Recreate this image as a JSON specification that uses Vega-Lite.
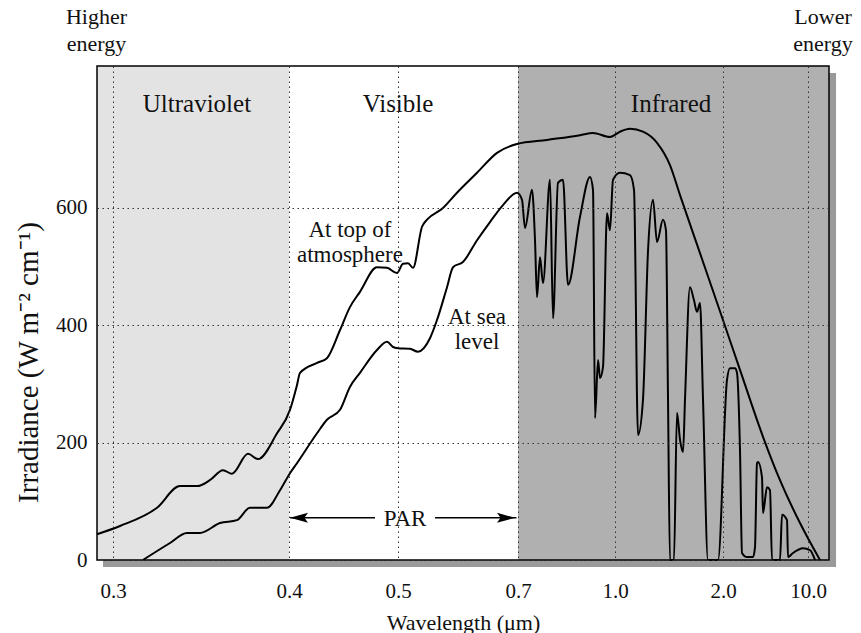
{
  "$schema": "https://vega.github.io/schema/vega-lite/v6.json",
  "width": 732,
  "height": 494,
  "autosize": {"type": "none"},
  "padding": {"left": 97, "top": 66, "right": 32, "bottom": 73},
  "background": "white",
  "config": {"view": {"stroke": null}, "font": "Liberation Serif"},
  "datasets": {
    "regions": [
      {"w": 0.2909, "w2": 0.4, "v": 0, "v2": 842, "r": "uv"},
      {"w": 0.7, "w2": 12, "v": 0, "v2": 842, "r": "ir"},
      {"w": 0.2943, "w2": 12.67, "v": -12, "v2": 0, "r": "shadow"},
      {"w": 12, "w2": 12.67, "v": -12, "v2": 830, "r": "shadow"}
    ],
    "curves": [
      {"series": "top", "w": 0.2909, "v": 44}, {"series": "top", "w": 0.304, "v": 58}, {"series": "top", "w": 0.325, "v": 89},
      {"series": "top", "w": 0.338, "v": 126}, {"series": "top", "w": 0.348, "v": 126}, {"series": "top", "w": 0.355, "v": 136},
      {"series": "top", "w": 0.3625, "v": 153}, {"series": "top", "w": 0.3676, "v": 147}, {"series": "top", "w": 0.3767, "v": 181},
      {"series": "top", "w": 0.3824, "v": 172}, {"series": "top", "w": 0.3932, "v": 216}, {"series": "top", "w": 0.4009, "v": 256},
      {"series": "top", "w": 0.4073, "v": 298}, {"series": "top", "w": 0.4101, "v": 319}, {"series": "top", "w": 0.4257, "v": 336},
      {"series": "top", "w": 0.4348, "v": 344}, {"series": "top", "w": 0.4468, "v": 392}, {"series": "top", "w": 0.4559, "v": 431},
      {"series": "top", "w": 0.4651, "v": 457}, {"series": "top", "w": 0.4807, "v": 499}, {"series": "top", "w": 0.4899, "v": 498},
      {"series": "top", "w": 0.4991, "v": 489}, {"series": "top", "w": 0.5083, "v": 505}, {"series": "top", "w": 0.5167, "v": 506},
      {"series": "top", "w": 0.525, "v": 498}, {"series": "top", "w": 0.54, "v": 568}, {"series": "top", "w": 0.5483, "v": 580},
      {"series": "top", "w": 0.575, "v": 600}, {"series": "top", "w": 0.5983, "v": 626}, {"series": "top", "w": 0.6317, "v": 660},
      {"series": "top", "w": 0.665, "v": 694}, {"series": "top", "w": 0.6983, "v": 709}, {"series": "top", "w": 0.7897, "v": 716},
      {"series": "top", "w": 0.8918, "v": 724}, {"series": "top", "w": 0.932, "v": 728}, {"series": "top", "w": 0.9845, "v": 721},
      {"series": "top", "w": 1.046, "v": 730}, {"series": "top", "w": 1.139, "v": 735}, {"series": "top", "w": 1.259, "v": 730},
      {"series": "top", "w": 1.389, "v": 711}, {"series": "top", "w": 1.509, "v": 673}, {"series": "top", "w": 1.602, "v": 622},
      {"series": "top", "w": 1.787, "v": 523}, {"series": "top", "w": 1.972, "v": 424}, {"series": "top", "w": 3.6, "v": 324},
      {"series": "top", "w": 5.765, "v": 210}, {"series": "top", "w": 7.365, "v": 136}, {"series": "top", "w": 9.247, "v": 63},
      {"series": "top", "w": 11.14, "v": 0},
      {"series": "sea", "w": 0.317, "v": 0}, {"series": "sea", "w": 0.3324, "v": 29}, {"series": "sea", "w": 0.342, "v": 46},
      {"series": "sea", "w": 0.3494, "v": 46}, {"series": "sea", "w": 0.3608, "v": 63}, {"series": "sea", "w": 0.3704, "v": 68},
      {"series": "sea", "w": 0.3778, "v": 89}, {"series": "sea", "w": 0.3875, "v": 89}, {"series": "sea", "w": 0.3949, "v": 119},
      {"series": "sea", "w": 0.4009, "v": 148}, {"series": "sea", "w": 0.4073, "v": 165}, {"series": "sea", "w": 0.4257, "v": 216},
      {"series": "sea", "w": 0.4348, "v": 239}, {"series": "sea", "w": 0.4468, "v": 256}, {"series": "sea", "w": 0.4559, "v": 295},
      {"series": "sea", "w": 0.4651, "v": 319}, {"series": "sea", "w": 0.4807, "v": 358}, {"series": "sea", "w": 0.4899, "v": 372},
      {"series": "sea", "w": 0.4954, "v": 363}, {"series": "sea", "w": 0.5, "v": 361}, {"series": "sea", "w": 0.52, "v": 360},
      {"series": "sea", "w": 0.5333, "v": 355}, {"series": "sea", "w": 0.5533, "v": 378}, {"series": "sea", "w": 0.565, "v": 409},
      {"series": "sea", "w": 0.5817, "v": 465}, {"series": "sea", "w": 0.5917, "v": 499}, {"series": "sea", "w": 0.6083, "v": 508},
      {"series": "sea", "w": 0.6317, "v": 545}, {"series": "sea", "w": 0.6533, "v": 576}, {"series": "sea", "w": 0.675, "v": 605},
      {"series": "sea", "w": 0.6983, "v": 626}, {"series": "sea", "w": 0.7124, "v": 614}, {"series": "sea", "w": 0.7217, "v": 566},
      {"series": "sea", "w": 0.7433, "v": 631}, {"series": "sea", "w": 0.7526, "v": 545}, {"series": "sea", "w": 0.7588, "v": 448},
      {"series": "sea", "w": 0.768, "v": 516}, {"series": "sea", "w": 0.7773, "v": 472}, {"series": "sea", "w": 0.799, "v": 648},
      {"series": "sea", "w": 0.8083, "v": 412}, {"series": "sea", "w": 0.8237, "v": 643}, {"series": "sea", "w": 0.8392, "v": 648},
      {"series": "sea", "w": 0.8547, "v": 469}, {"series": "sea", "w": 0.8918, "v": 585}, {"series": "sea", "w": 0.9227, "v": 653},
      {"series": "sea", "w": 0.932, "v": 631}, {"series": "sea", "w": 0.9382, "v": 242}, {"series": "sea", "w": 0.9475, "v": 341},
      {"series": "sea", "w": 0.9536, "v": 310}, {"series": "sea", "w": 0.9629, "v": 329}, {"series": "sea", "w": 0.9753, "v": 591},
      {"series": "sea", "w": 0.9845, "v": 562}, {"series": "sea", "w": 0.9938, "v": 648}, {"series": "sea", "w": 1.046, "v": 660},
      {"series": "sea", "w": 1.139, "v": 656}, {"series": "sea", "w": 1.176, "v": 631}, {"series": "sea", "w": 1.213, "v": 213},
      {"series": "sea", "w": 1.259, "v": 273}, {"series": "sea", "w": 1.306, "v": 528}, {"series": "sea", "w": 1.352, "v": 614},
      {"series": "sea", "w": 1.389, "v": 542}, {"series": "sea", "w": 1.444, "v": 580}, {"series": "sea", "w": 1.472, "v": 562},
      {"series": "sea", "w": 1.491, "v": 273}, {"series": "sea", "w": 1.509, "v": 0}, {"series": "sea", "w": 1.546, "v": 0},
      {"series": "sea", "w": 1.574, "v": 251}, {"series": "sea", "w": 1.602, "v": 205}, {"series": "sea", "w": 1.63, "v": 184},
      {"series": "sea", "w": 1.648, "v": 273}, {"series": "sea", "w": 1.694, "v": 465}, {"series": "sea", "w": 1.731, "v": 443},
      {"series": "sea", "w": 1.759, "v": 423}, {"series": "sea", "w": 1.787, "v": 438}, {"series": "sea", "w": 1.815, "v": 273},
      {"series": "sea", "w": 1.861, "v": 0}, {"series": "sea", "w": 1.954, "v": 0}, {"series": "sea", "w": 2.376, "v": 307},
      {"series": "sea", "w": 2.659, "v": 327}, {"series": "sea", "w": 3.129, "v": 327}, {"series": "sea", "w": 3.318, "v": 319},
      {"series": "sea", "w": 3.6, "v": 187}, {"series": "sea", "w": 3.788, "v": 12}, {"series": "sea", "w": 4.259, "v": 5},
      {"series": "sea", "w": 4.824, "v": 5}, {"series": "sea", "w": 5.012, "v": 22}, {"series": "sea", "w": 5.2, "v": 165},
      {"series": "sea", "w": 5.294, "v": 167}, {"series": "sea", "w": 5.671, "v": 141}, {"series": "sea", "w": 5.765, "v": 80},
      {"series": "sea", "w": 6.141, "v": 124}, {"series": "sea", "w": 6.424, "v": 119}, {"series": "sea", "w": 6.612, "v": 0},
      {"series": "sea", "w": 7.365, "v": 0}, {"series": "sea", "w": 7.553, "v": 77}, {"series": "sea", "w": 8.024, "v": 68},
      {"series": "sea", "w": 8.118, "v": 5}, {"series": "sea", "w": 8.588, "v": 12}, {"series": "sea", "w": 9.53, "v": 20},
      {"series": "sea", "w": 10.19, "v": 17}, {"series": "sea", "w": 10.67, "v": 0}
    ],
    "frame": [{"w": 0.2909, "w2": 12, "v": 0, "v2": 842}],
    "regionLabels": [
      {"w": 0.3477, "v": 763, "label": "Ultraviolet"},
      {"w": 0.5, "v": 763, "label": "Visible"},
      {"w": 1.519, "v": 763, "label": "Infrared"}
    ],
    "curveLabels": [
      {"w": 0.4559, "v": 563, "label": "At top of\natmosphere"},
      {"w": 0.6317, "v": 414, "label": "At sea\nlevel"}
    ],
    "energyLabels": [
      {"w": 0.2906, "v": 914, "label": "Higher\nenergy"},
      {"w": 11.43, "v": 914, "label": "Lower\nenergy"}
    ],
    "parLabel": [{"w": 0.5117, "v": 70, "label": "PAR"}],
    "parLines": [
      {"w": 0.401, "w2": 0.4789, "v": 72},
      {"w": 0.5617, "w2": 0.6975, "v": 72}
    ],
    "parHeads": [
      {"w": 0.4092, "v": 72, "dir": "left"},
      {"w": 0.68, "v": 72, "dir": "right"}
    ]
  },
  "encoding": {
    "x": {
      "field": "w",
      "type": "quantitative",
      "title": "Wavelength (μm)",
      "scale": {
        "domain": [0.2909, 0.3, 0.4, 0.5, 0.7, 1, 2, 10, 12],
        "range": [0, 16, 192, 301, 421, 518, 626, 711, 732],
        "nice": false,
        "zero": false
      },
      "axis": {
        "values": [0.3, 0.4, 0.5, 0.7, 1, 2, 10],
        "format": ".1f",
        "ticks": false,
        "tickSize": 0,
        "domain": false,
        "grid": true,
        "gridDash": [1.5, 3.5],
        "gridColor": "#333333",
        "gridWidth": 1,
        "labelFont": "Liberation Serif",
        "labelFontSize": 21,
        "labelColor": "#111111",
        "labelBaseline": "alphabetic",
        "labelPadding": 37,
        "labelFlush": false,
        "labelOverlap": false,
        "titleFont": "Liberation Serif",
        "titleFontSize": 22,
        "titleFontWeight": "normal",
        "titleColor": "#111111",
        "titleBaseline": "alphabetic",
        "titleY": 69,
        "zindex": 1
      }
    },
    "y": {
      "field": "v",
      "type": "quantitative",
      "title": "Irradiance (W m⁻² cm⁻¹)",
      "scale": {"domain": [0, 842], "nice": false, "zero": false},
      "axis": {
        "values": [0, 200, 400, 600],
        "ticks": false,
        "tickSize": 0,
        "domain": false,
        "grid": true,
        "gridDash": [1.5, 3.5],
        "gridColor": "#333333",
        "gridWidth": 1,
        "labelFont": "Liberation Serif",
        "labelFontSize": 21,
        "labelColor": "#111111",
        "labelPadding": 10,
        "titleFont": "Liberation Serif",
        "titleFontSize": 29,
        "titleFontWeight": "normal",
        "titleColor": "#111111",
        "titleAngle": -90,
        "titleAlign": "center",
        "titleBaseline": "alphabetic",
        "titleX": -60,
        "titleY": 296,
        "zindex": 1
      }
    }
  },
  "layer": [
    {
      "data": {"name": "regions"},
      "mark": {"type": "rect"},
      "encoding": {
        "x2": {"field": "w2"},
        "y2": {"field": "v2"},
        "color": {
          "field": "r",
          "type": "nominal",
          "scale": {"domain": ["uv", "ir", "shadow"], "range": ["#e3e3e3", "#b0b0b0", "#9a9a9a"]},
          "legend": null
        }
      }
    },
    {
      "data": {"name": "curves"},
      "mark": {"type": "line", "color": "#000000", "strokeWidth": 2, "interpolate": "monotone"},
      "encoding": {"detail": {"field": "series", "type": "nominal"}}
    },
    {
      "data": {"name": "frame"},
      "mark": {"type": "rect", "fillOpacity": 0, "stroke": "#000000", "strokeWidth": 1.5},
      "encoding": {"x2": {"field": "w2"}, "y2": {"field": "v2"}}
    },
    {
      "data": {"name": "regionLabels"},
      "mark": {"type": "text", "font": "Liberation Serif", "fontSize": 25, "baseline": "alphabetic", "align": "center", "color": "#111111"},
      "encoding": {"text": {"field": "label"}}
    },
    {
      "data": {"name": "curveLabels"},
      "mark": {"type": "text", "font": "Liberation Serif", "fontSize": 23, "baseline": "middle", "align": "center", "lineBreak": "\n", "lineHeight": 25, "color": "#111111"},
      "encoding": {"text": {"field": "label"}}
    },
    {
      "data": {"name": "energyLabels"},
      "mark": {"type": "text", "font": "Liberation Serif", "fontSize": 22, "baseline": "alphabetic", "align": "center", "lineBreak": "\n", "lineHeight": 27, "color": "#111111"},
      "encoding": {"text": {"field": "label"}}
    },
    {
      "data": {"name": "parLabel"},
      "mark": {"type": "text", "font": "Liberation Serif", "fontSize": 23, "baseline": "middle", "align": "center", "color": "#111111"},
      "encoding": {"text": {"field": "label"}}
    },
    {
      "data": {"name": "parLines"},
      "mark": {"type": "rule", "color": "#000000", "strokeWidth": 1.5},
      "encoding": {"x2": {"field": "w2"}}
    },
    {
      "data": {"name": "parHeads"},
      "mark": {"type": "point", "filled": true, "color": "#000000", "opacity": 1, "size": 324},
      "encoding": {
        "shape": {
          "field": "dir",
          "type": "nominal",
          "scale": {"domain": ["left", "right"], "range": ["M-1,0L1,-0.55L0.6,0L1,0.55Z", "M1,0L-1,-0.55L-0.6,0L-1,0.55Z"]},
          "legend": null
        }
      }
    }
  ]
}
